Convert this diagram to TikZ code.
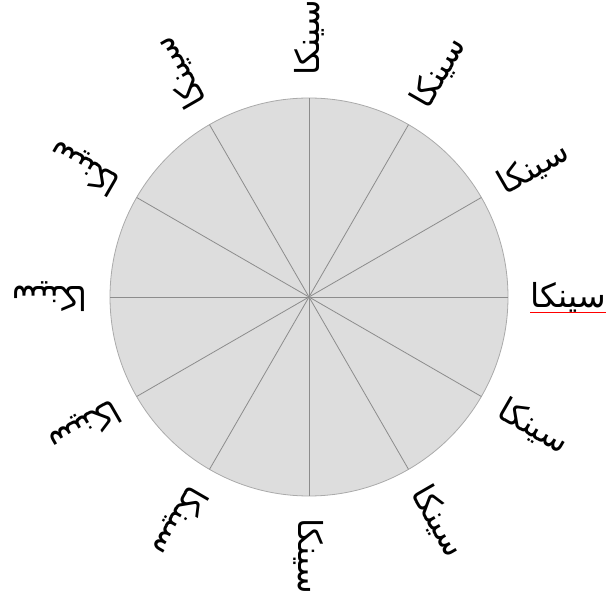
\documentclass[tikz,border=0pt]{standalone}
\usepackage{fontspec}
\usetikzlibrary{calc}
\TeXXeTstate=1
\newfontfamily\arabicfont[Script=Arabic]{DejaVu Sans}
\definecolor{disc}{RGB}{221,221,221}
\definecolor{spoke}{RGB}{140,140,140}
\definecolor{rim}{RGB}{170,170,170}

\begin{document}
\begin{tikzpicture}[x=1pt,y=1pt,
  lbl/.style={anchor=west,inner sep=0pt,font=\fontsize{33}{38}\arabicfont,text=black},
  sp/.style={draw=spoke,line width=0.8pt}]
  \useasboundingbox (0,0) rectangle (615,597);
  \coordinate (c) at (309,300);
  \draw[draw=rim,fill=disc,line width=0.8pt] (c) circle (199);
  \foreach \a in {0,30,...,330}{
    \draw[sp] (c) -- ($(c)+(\a:199)$);
    \node[lbl,rotate=\a] (l\a) at ($(c)+(\a:221)$) {\beginR سینکا\endR};
  }
  \draw[red,line width=0.8pt] (l0.south west) -- (l0.south east);
\end{tikzpicture}
\end{document}
